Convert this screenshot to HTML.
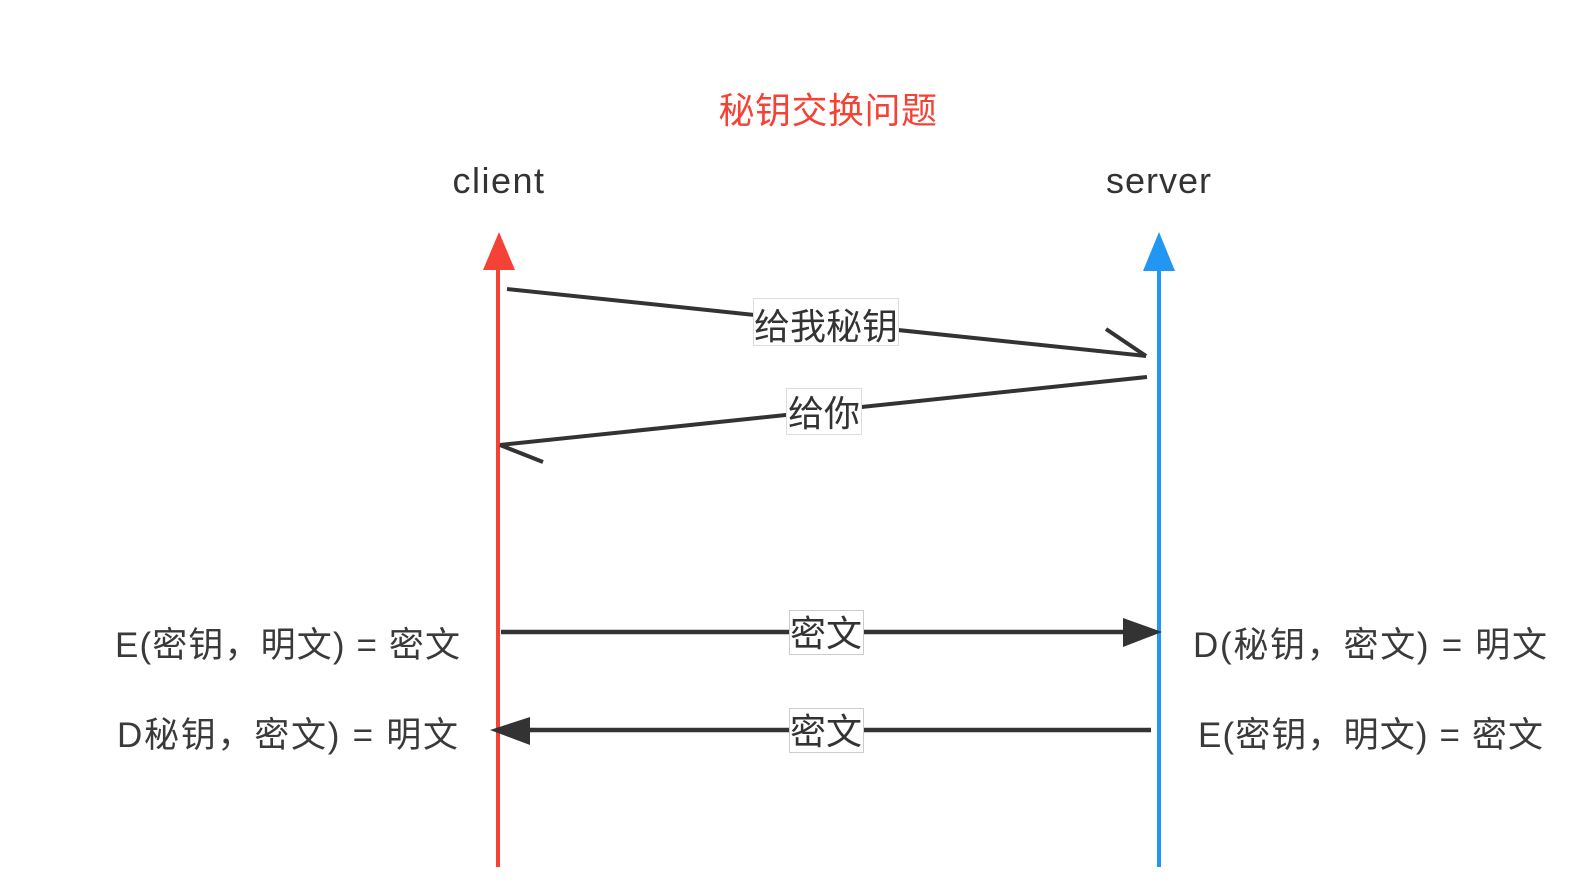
<!DOCTYPE html>
<html>
<head>
<meta charset="utf-8">
<style>
html,body{margin:0;padding:0;background:#fff;}
svg{display:block;}
text{font-family:"Liberation Sans","Noto Sans CJK SC","WenQuanYi Zen Hei",sans-serif;}
</style>
</head>
<body>
<svg width="1590" height="895" viewBox="0 0 1590 895" xmlns="http://www.w3.org/2000/svg">
  <rect width="1590" height="895" fill="#fff"/>

  <!-- Title -->
  <text x="828" y="123" font-size="36" fill="#f44336" text-anchor="middle" letter-spacing="0.5">秘钥交换问题</text>

  <!-- client / server -->
  <text x="499" y="193" font-size="36" fill="#333" text-anchor="middle" letter-spacing="1.5">client</text>
  <text x="1159" y="193" font-size="36" fill="#333" text-anchor="middle" letter-spacing="1">server</text>

  <!-- red lifeline -->
  <line x1="498" y1="266" x2="498" y2="867" stroke="#f44336" stroke-width="4"/>
  <polygon points="499,232 483,270 515,270" fill="#f44336"/>

  <!-- blue lifeline -->
  <line x1="1159" y1="266" x2="1159" y2="867" stroke="#2196f3" stroke-width="4"/>
  <polygon points="1159,232 1143,271 1175,271" fill="#2196f3"/>

  <!-- arrow 1: 给我秘钥 -->
  <line x1="507" y1="289" x2="1146" y2="356" stroke="#333" stroke-width="4"/>
  <line x1="1106" y1="329" x2="1146" y2="356" stroke="#333" stroke-width="4"/>
  <rect x="753.5" y="298.5" width="145" height="47" fill="#fff" stroke="#ddd" stroke-width="1"/>
  <text x="826" y="339" font-size="36" fill="#333" text-anchor="middle">给我秘钥</text>

  <!-- arrow 2: 给你 -->
  <line x1="1147" y1="377" x2="500" y2="445" stroke="#333" stroke-width="4"/>
  <line x1="500" y1="445" x2="543" y2="462" stroke="#333" stroke-width="4"/>
  <rect x="786.5" y="388.5" width="75" height="46" fill="#fff" stroke="#ddd" stroke-width="1"/>
  <text x="824" y="426" font-size="36" fill="#333" text-anchor="middle">给你</text>

  <!-- arrow 3: 密文 -> -->
  <line x1="501" y1="632" x2="1125" y2="632" stroke="#333" stroke-width="4.5"/>
  <polygon points="1162,632 1123,618 1123,647" fill="#333"/>
  <rect x="789.5" y="610.5" width="74" height="44" fill="#fff" stroke="#ccc" stroke-width="1"/>
  <text x="826" y="646" font-size="36" fill="#333" text-anchor="middle">密文</text>

  <!-- arrow 4: <- 密文 -->
  <line x1="1151" y1="730" x2="528" y2="730" stroke="#333" stroke-width="4.5"/>
  <polygon points="490,730 530,717 530,745" fill="#333"/>
  <rect x="789.5" y="708.5" width="74" height="44" fill="#fff" stroke="#ccc" stroke-width="1"/>
  <text x="826" y="744" font-size="36" fill="#333" text-anchor="middle">密文</text>

  <!-- side labels -->
  <text x="115" y="657" font-size="35" fill="#3a3a3a" textLength="345" lengthAdjust="spacing">E(密钥，明文) = 密文</text>
  <text x="117" y="747" font-size="35" fill="#3a3a3a" textLength="341" lengthAdjust="spacing">D秘钥，密文) = 明文</text>
  <text x="1193" y="657" font-size="35" fill="#3a3a3a" textLength="354" lengthAdjust="spacing">D(秘钥，密文) = 明文</text>
  <text x="1198" y="747" font-size="35" fill="#3a3a3a" textLength="345" lengthAdjust="spacing">E(密钥，明文) = 密文</text>
</svg>
</body>
</html>
